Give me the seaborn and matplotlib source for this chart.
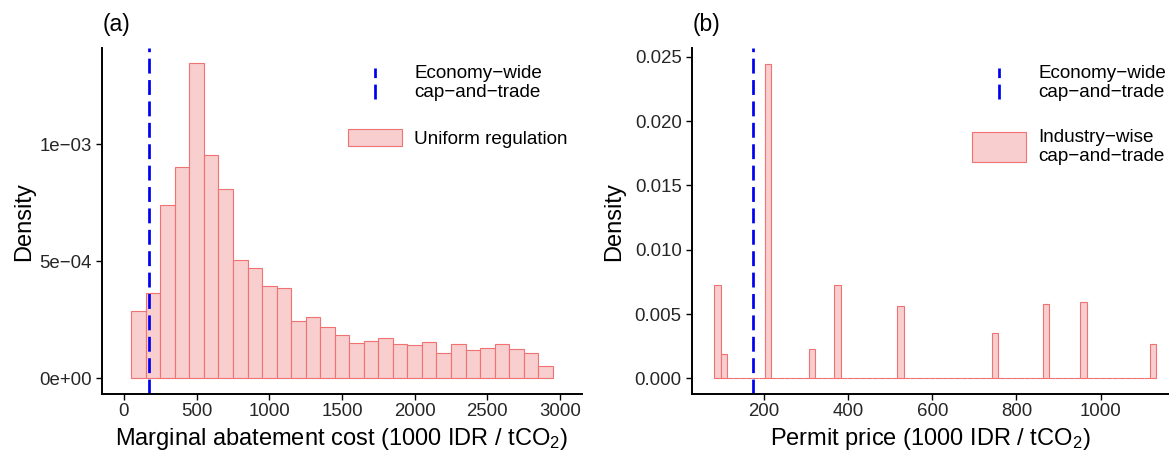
import numpy as np
import pandas as pd
import matplotlib
matplotlib.use("Agg")
import matplotlib.pyplot as plt
from matplotlib.lines import Line2D
from matplotlib.patches import Patch
from matplotlib.legend_handler import HandlerBase
import seaborn as sns

# ---- data -------------------------------------------------------------
# (a) marginal abatement cost under uniform regulation: bin centres and densities
mac_centers = [100, 200, 300, 400, 500, 600, 700, 800, 900, 1000,
               1100, 1200, 1300, 1400, 1500, 1600, 1700, 1800, 1900, 2000,
               2100, 2200, 2300, 2400, 2500, 2600, 2700, 2800, 2900]
mac_density = [2.86e-4, 3.63e-4, 7.39e-4, 9.01e-4, 1.346e-3, 9.56e-4, 8.10e-4, 5.07e-4, 4.71e-4, 3.94e-4,
               3.86e-4, 2.44e-4, 2.60e-4, 2.19e-4, 1.87e-4, 1.50e-4, 1.59e-4, 1.73e-4, 1.46e-4, 1.41e-4,
               1.54e-4, 1.10e-4, 1.46e-4, 1.19e-4, 1.29e-4, 1.46e-4, 1.24e-4, 1.06e-4, 0.51e-4]
mac_binwidth = 100
mac_start = 50

# (b) permit prices under industry-wise cap-and-trade: non-empty bins
permit_centers = [89.5, 104.5, 209.5, 314.5, 374.5, 524.5, 749.5, 869.5, 959.5, 1124.5]
permit_density = [0.00722, 0.00187, 0.02445, 0.00226, 0.00727, 0.00561, 0.00353, 0.00579, 0.00592, 0.00267]
permit_binwidth = 15
permit_start = 82
permit_nbins = 70

# economy-wide cap-and-trade price
economy_price = 173

mac_yticks = [0, 5e-4, 1e-3]
mac_yticklabels = ["0e+00", "5e\u221204", "1e\u221203"]
mac_xticks = [0, 500, 1000, 1500, 2000, 2500, 3000]
permit_yticks = [0, 0.005, 0.010, 0.015, 0.020, 0.025]
permit_yticklabels = ["0.000", "0.005", "0.010", "0.015", "0.020", "0.025"]
permit_xticks = [200, 400, 600, 800, 1000]

# ---- style ------------------------------------------------------------
sns.set_style("ticks")
plt.rcParams["font.family"] = ["Liberation Sans", "DejaVu Sans"]
plt.rcParams["mathtext.fontset"] = "custom"
plt.rcParams["mathtext.rm"] = "Liberation Sans"
plt.rcParams["mathtext.it"] = "Liberation Sans:italic"
plt.rcParams["text.color"] = "black"
plt.rcParams["axes.labelcolor"] = "black"

FILL = "#F8CECE"
EDGE = "#F07272"
BLUE = "#0000F0"
TICK_FS = 13.4
LABEL_FS = 17
LEG_FS = 13.6
TAG_FS = 16.5
VLW = 1.95
DASHES = (5.5, 2.4)
PT = 100 / 72  # pixels per point

W, H = 1169, 453
fig = plt.figure(figsize=(W / 100, H / 100), dpi=100)


def px_axes(x0, x1, y_top, y_bot):
    return fig.add_axes([x0 / W, (H - y_bot) / H, (x1 - x0) / W, (y_bot - y_top) / H])


class VLineHandler(HandlerBase):
    """Legend key drawn as a vertical dashed line (like a vline key)."""
    def create_artists(self, legend, orig_handle, xdescent, ydescent,
                       width, height, fontsize, trans):
        x = width / 2 - xdescent
        ln = Line2D([x, x], [-ydescent, height - ydescent], color=BLUE,
                    lw=VLW, dashes=DASHES)
        ln.set_transform(trans)
        return [ln]


def style_axes(ax):
    sns.despine(ax=ax)
    for s in ("left", "bottom"):
        ax.spines[s].set_linewidth(1.4)
        ax.spines[s].set_color("black")
    ax.tick_params(axis="both", length=4, width=1.0, color="black",
                   labelsize=TICK_FS, labelcolor="#262626")
    ax.tick_params(axis="x", pad=2.5)
    ax.tick_params(axis="y", pad=3.6)
    ax.set_ylabel("Density", fontsize=LABEL_FS)


def add_legends(ax, x_left, fill_label, patch_h):
    common = dict(loc="upper left", bbox_transform=fig.transFigure, frameon=False,
                  fontsize=LEG_FS, borderpad=0, borderaxespad=0,
                  handlelength=54 / PT / LEG_FS,
                  handletextpad=12.3 / PT / LEG_FS)
    leg1 = ax.legend([Line2D([], [])], ["Economy\u2212wide\ncap\u2212and\u2212trade"],
                     handler_map={Line2D: VLineHandler()},
                     bbox_to_anchor=(x_left / W, 1 - 65.5 / H),
                     handleheight=40 / PT / LEG_FS, **common)
    for t in leg1.get_texts():
        t.set_linespacing(1.1)
    ax.add_artist(leg1)
    h_patch = Patch(facecolor=FILL, edgecolor=EDGE, linewidth=0.8)
    leg2 = ax.legend([h_patch], [fill_label],
                     bbox_to_anchor=(x_left / W, 1 - 129.3 / H),
                     handleheight=patch_h / PT / LEG_FS, **common)
    for t in leg2.get_texts():
        t.set_linespacing(1.1)


# ---- (a) uniform regulation ------------------------------------------
ax1 = px_axes(102.3, 581.8, 48.3, 394.3)
mac_df = pd.DataFrame({"cost": mac_centers, "density": mac_density})
mac_edges = [mac_start + mac_binwidth * k for k in range(len(mac_centers) + 1)]
sns.histplot(data=mac_df, x="cost", weights="density", bins=mac_edges, stat="count",
             color=FILL, edgecolor=EDGE, linewidth=0.8, alpha=1, ax=ax1)
ax1.axvline(economy_price, color=BLUE, lw=VLW, dashes=DASHES)
ax1.set_xlim(-149, 3150)
ax1.set_ylim(-6.84e-5, 1.410e-3)
ax1.set_xticks(mac_xticks)
ax1.set_yticks(mac_yticks)
ax1.set_yticklabels(mac_yticklabels)
style_axes(ax1)
ax1.set_xlabel(r"Marginal abatement cost (1000 IDR / tCO$_2$)", fontsize=LABEL_FS)
add_legends(ax1, 347.7, "Uniform regulation", 19)
fig.text(102.5 / W, 1 - 25 / H, "(a)", fontsize=TAG_FS, va="center", ha="left")

# ---- (b) industry-wise cap-and-trade ---------------------------------
ax2 = px_axes(692.3, 1169, 48.3, 394.3)
permit_df = pd.DataFrame({"price": permit_centers, "density": permit_density})
permit_edges = [permit_start + permit_binwidth * k for k in range(permit_nbins + 1)]
sns.histplot(data=permit_df, x="price", weights="density", bins=permit_edges, stat="count",
             color=FILL, edgecolor=EDGE, linewidth=0.8, alpha=1, ax=ax2)
ax2.axvline(economy_price, color=BLUE, lw=VLW, dashes=DASHES)
ax2.set_xlim(29.6, 1162.4)
ax2.set_ylim(-0.001246, 0.02567)
ax2.set_xticks(permit_xticks)
ax2.set_yticks(permit_yticks)
ax2.set_yticklabels(permit_yticklabels)
style_axes(ax2)
ax2.set_xlabel(r"Permit price (1000 IDR / tCO$_2$)", fontsize=LABEL_FS)
add_legends(ax2, 971.7, "Industry\u2212wise\ncap\u2212and\u2212trade", 39)
fig.text(692.5 / W, 1 - 25 / H, "(b)", fontsize=TAG_FS, va="center", ha="left")

ax1.yaxis.set_label_coords(-(102.3 - 35) / (581.8 - 102.3), 0.5)
ax2.yaxis.set_label_coords(-(692.3 - 625) / (1169 - 692.3), 0.5)
ax1.xaxis.set_label_coords(0.5, -(425.5 - 394.3) / 346.0)
ax2.xaxis.set_label_coords(0.5, -(425.5 - 394.3) / 346.0)

fig.savefig("out.png", dpi=100)
